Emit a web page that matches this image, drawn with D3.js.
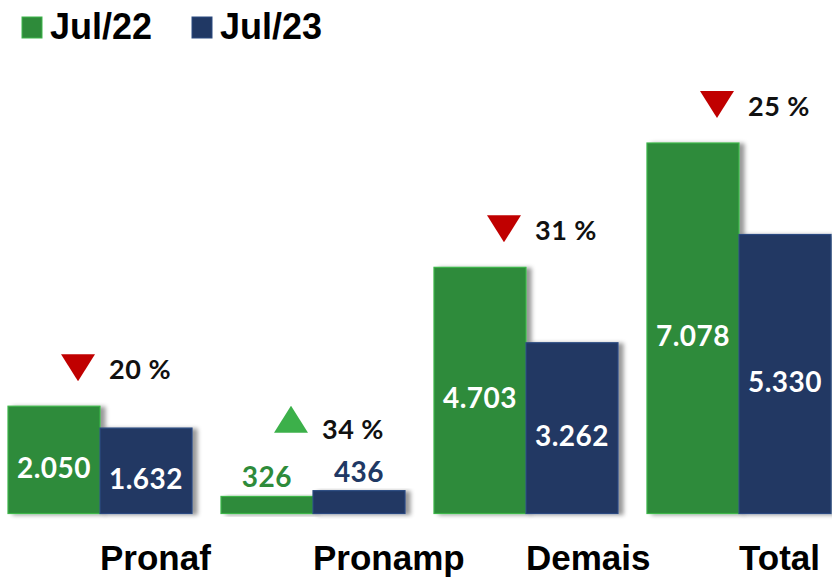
<!DOCTYPE html>
<html><head><meta charset="utf-8">
<script src="https://cdn.jsdelivr.net/npm/d3@7"></script>
<style>body{margin:0;background:#fff}svg{display:block}</style>
</head><body>
<script>
const categories = ["Pronaf", "Pronamp", "Demais", "Total"];
const seriesNames = ["Jul/22", "Jul/23"];
const jul22 = [2050, 326, 4703, 7078];
const jul23 = [1632, 436, 3262, 5330];

const W = 832, H = 578;
const fills = ["#2E8B3A", "#203864"];
const strokes = ["#3DB54A", "#2B4A80"];
const svg = d3.select("body").append("svg").attr("width", W).attr("height", H);

const defs = svg.append("defs");
const f = defs.append("filter").attr("id", "sh").attr("x", "-10%").attr("y", "-10%").attr("width", "130%").attr("height", "130%");
f.append("feDropShadow").attr("dx", 5).attr("dy", 1).attr("stdDeviation", 2).attr("flood-color", "#000").attr("flood-opacity", 0.4);

const loc = d3.formatLocale({decimal: ",", thousands: ".", grouping: [3], currency: ["R$", ""]});
const fmt = loc.format(",d");

const x0 = d3.scaleBand().domain(categories).range([8, 831]).paddingInner(0.136).paddingOuter(0);
const x1 = d3.scaleBand().domain(seriesNames).range([0, x0.bandwidth()]);
const y = d3.scaleLinear().domain([0, 7078]).range([513.5, 143]);

const data = categories.map((c, i) => ({cat: c, vals: [jul22[i], jul23[i]]}));

const g = svg.append("g");
const grp = g.selectAll("g.grp").data(data).join("g").attr("class", "grp")
  .attr("transform", d => `translate(${x0(d.cat)},0)`);

// bars
grp.selectAll("rect").data(d => d.vals.map((v, j) => ({v, j, s: seriesNames[j]})))
  .join("rect")
  .attr("x", d => x1(d.s)).attr("width", x1.bandwidth())
  .attr("y", d => y(d.v)).attr("height", d => y(0) - y(d.v))
  .attr("fill", d => fills[d.j]).attr("stroke", d => strokes[d.j]).attr("stroke-width", 1.2)
  .attr("filter", "url(#sh)");

// value labels
const valFont = "Lato, 'Open Sans', sans-serif";
grp.selectAll("text.val").data(d => d.vals.map((v, j) => ({v, j, s: seriesNames[j]})))
  .join("text").attr("class", "val")
  .attr("x", d => x1(d.s) + x1.bandwidth() / 2)
  .attr("y", d => {
    const h = y(0) - y(d.v);
    return h < 40 ? y(d.v) - 9 : (y(d.v) + y(0)) / 2 + 18;
  })
  .attr("text-anchor", "middle")
  .attr("font-family", valFont).attr("font-weight", 700).attr("font-size", 28)
  .attr("letter-spacing", 0.5)
  .attr("fill", d => (y(0) - y(d.v)) < 40 ? fills[d.j] : "#fff")
  .text(d => fmt(d.v));

// change indicators
grp.each(function(d) {
  const gg = d3.select(this);
  const a = d.vals[0], b = d.vals[1];
  const pct = Math.round(Math.abs((b - a) / a) * 100);
  const up = b > a;
  const maxV = Math.max(a, b);
  const small = (y(0) - y(maxV)) < 40;
  const topY = small ? y(maxV) - 32 : y(maxV);
  const bottom = topY - (small ? 26 : 25);
  const cx = x0.bandwidth() / 2 - 22;
  const tw = 34, th = 27;
  const pts = up
    ? [[cx - tw / 2, bottom], [cx + tw / 2, bottom], [cx, bottom - th]]
    : [[cx - tw / 2, bottom - th], [cx + tw / 2, bottom - th], [cx, bottom]];
  gg.append("path").attr("d", d3.line()(pts) + "Z").attr("fill", up ? "#3CB04A" : "#C00000");
  gg.append("text").attr("x", x0.bandwidth() / 2 + 9).attr("y", bottom + (up ? 6 : -2))
    .attr("font-family", valFont).attr("font-weight", 700).attr("font-size", 27)
    .attr("letter-spacing", 0.5)
    .attr("fill", "#111").text(pct + " %");
});

// category labels
g.selectAll("text.cat").data(categories).join("text").attr("class", "cat")
  .attr("x", d => x0(d) + x0.bandwidth() / 2)
  .attr("y", 570)
  .attr("font-family", "'Liberation Sans', Arial, sans-serif").attr("font-weight", 700).attr("font-size", 35)
  .attr("fill", "#000").text(d => d);

// legend
const lg = svg.append("g").selectAll("g").data(seriesNames).join("g")
  .attr("transform", (d, i) => `translate(${22 + i * 170},17)`);
lg.append("rect").attr("width", 20).attr("height", 21).attr("fill", (d, i) => fills[i])
  .attr("stroke", (d, i) => strokes[i]).attr("stroke-width", 1);
lg.append("text").attr("x", 28).attr("y", 22)
  .attr("font-family", "'Liberation Sans', Arial, sans-serif").attr("font-weight", 700).attr("font-size", 36)
  .attr("fill", "#000").text(d => d);
</script>
</body></html>
